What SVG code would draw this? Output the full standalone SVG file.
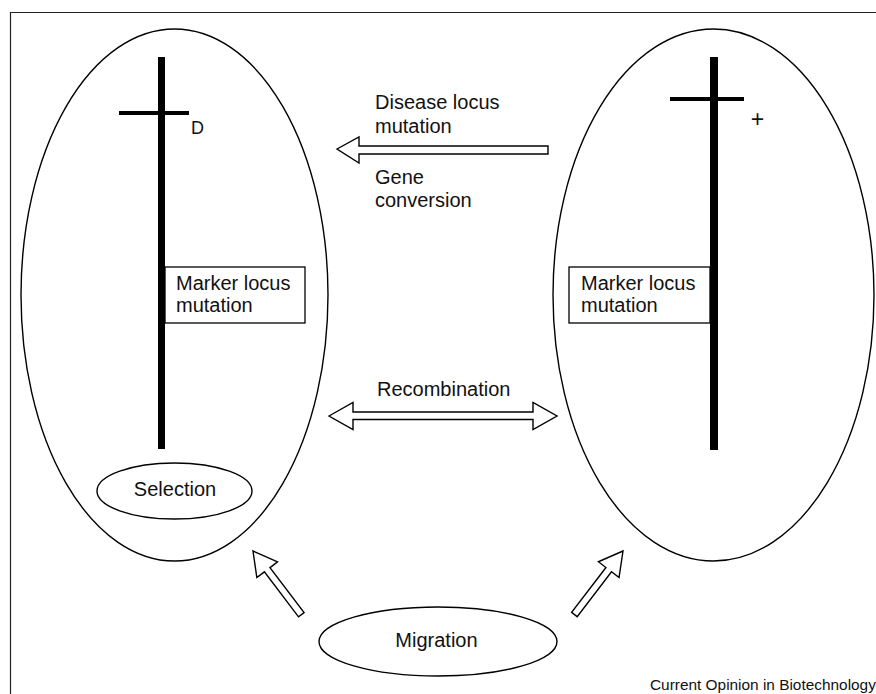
<svg xmlns="http://www.w3.org/2000/svg" width="876" height="694" viewBox="0 0 876 694">
<style>
  .t { font-family: "Liberation Sans", Arial, sans-serif; font-size: 20px; fill: #111; }
  .cap { font-family: "Liberation Sans", Arial, sans-serif; font-size: 15.4px; fill: #111; }
  .ell { fill: none; stroke: #000; stroke-width: 1.4; }
  .box { fill: #fff; stroke: #000; stroke-width: 1.3; }
  .bar { fill: #000; }
  .arr { fill: #fff; stroke: #000; stroke-width: 1.4; stroke-linejoin: miter; }
  .frame { fill: none; stroke: #222; stroke-width: 1.2; }
</style>
<defs>
  <polygon id="migArrow" class="arr" points="0,0 -23.5,-13 -23.5,-3.5 -80,-3.5 -80,3.5 -23.5,3.5 -23.5,13"/>
</defs>
<rect width="876" height="694" fill="#fff"/>
<path class="frame" d="M10.5,694 V12.5 H876"/>

<g id="population-left">
  <ellipse class="ell" cx="174.5" cy="295" rx="153.5" ry="266"/>
  <rect class="bar" x="158" y="57" width="7" height="392"/>
  <rect class="bar" x="119" y="111" width="70" height="4"/>
  <text class="t" x="191" y="134" style="font-size:18px">D</text>
</g>
<g id="marker-left">
  <rect class="box" x="165" y="267" width="140" height="56"/>
  <text class="t" x="176" y="290">Marker locus</text>
  <text class="t" x="176" y="311.5">mutation</text>
</g>
<g id="selection">
  <ellipse class="ell" cx="174.5" cy="491" rx="77.5" ry="28"/>
  <text class="t" x="175" y="496" text-anchor="middle">Selection</text>
</g>

<g id="population-right">
  <ellipse class="ell" cx="713.5" cy="295" rx="160.5" ry="266"/>
  <rect class="bar" x="710" y="57" width="8" height="393"/>
  <rect class="bar" x="670" y="97" width="74" height="4"/>
  <text class="t" x="757.5" y="127" text-anchor="middle" style="font-size:23px">+</text>
</g>
<g id="marker-right">
  <rect class="box" x="569" y="267" width="141" height="56"/>
  <text class="t" x="581" y="290">Marker locus</text>
  <text class="t" x="581" y="311.5">mutation</text>
</g>

<g id="migration">
  <ellipse class="ell" cx="438" cy="641.5" rx="119" ry="34.5"/>
  <text class="t" x="436.5" y="647" text-anchor="middle">Migration</text>
</g>

<g id="connectors">
  <polygon class="arr" points="337,149 359,137 359,146 548,146 548,154 359,154 359,163"/>
  <text class="t" x="375" y="109">Disease locus</text>
  <text class="t" x="375" y="133">mutation</text>
  <text class="t" x="375" y="184">Gene</text>
  <text class="t" x="375" y="206.5">conversion</text>

  <polygon class="arr" points="329,416 353,402.5 353,412 533,412 533,402.5 557,416 533,429.5 533,419.5 353,419.5 353,429.5"/>
  <text class="t" x="377" y="396">Recombination</text>

  <use href="#migArrow" transform="translate(253,551) rotate(-127.15)"/>
  <use href="#migArrow" transform="translate(623,551) rotate(-52.6)"/>
</g>

<text class="cap" x="650" y="690">Current Opinion in Biotechnology</text>
</svg>
